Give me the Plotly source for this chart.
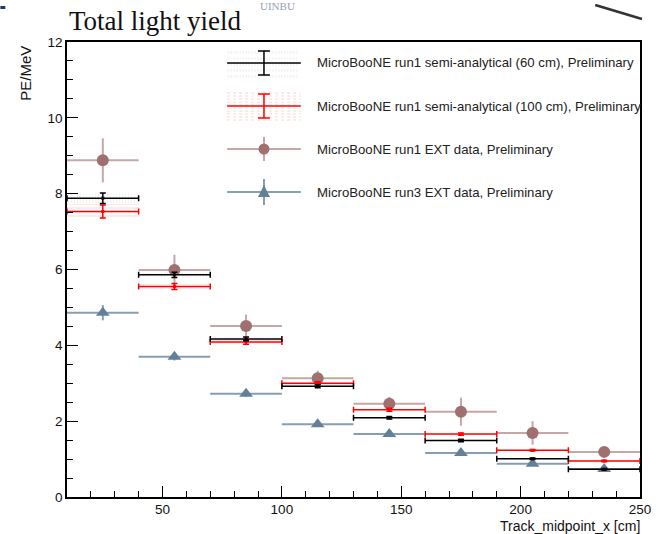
import plotly.graph_objects as go

# ---------------- data ----------------
bin_centers = [25, 55, 85, 115, 145, 175, 205, 235]
bin_half_width = [15, 15, 15, 15, 15, 15, 15, 15]

sa60_vals = [7.88, 5.86, 4.17, 2.92, 2.09, 1.49, 1.01, 0.73]
sa60_err = [0.14, 0.07, 0.05, 0.04, 0.03, 0.03, 0.02, 0.02]
sa60_sys = [0.12, 0.05, 0.04, 0.03, 0.02, 0.02, 0.02, 0.01]

sa100_vals = [7.53, 5.55, 4.09, 3.00, 2.30, 1.66, 1.23, 0.95]
sa100_err = [0.17, 0.08, 0.06, 0.04, 0.04, 0.03, 0.02, 0.02]
sa100_sys = [0.20, 0.06, 0.05, 0.04, 0.03, 0.03, 0.02, 0.02]

run1_vals = [8.88, 5.99, 4.51, 3.13, 2.46, 2.25, 1.69, 1.19]
run1_err = [0.58, 0.40, 0.30, 0.20, 0.18, 0.37, 0.31, 0.10]

run3_vals = [4.86, 3.70, 2.72, 1.92, 1.66, 1.16, 0.88, 0.74]
run3_err = [0.20, 0.10, 0.08, 0.07, 0.07, 0.05, 0.05, 0.05]

legend_labels = [
    "MicroBooNE run1 semi-analytical (60 cm), Preliminary",
    "MicroBooNE run1 semi-analytical (100 cm), Preliminary",
    "MicroBooNE run1 EXT data, Preliminary",
    "MicroBooNE run3 EXT data, Preliminary",
]

# ---------------- layout constants ----------------
W, H = 663, 534
L, R, T, B = 67, 20, 42, 37
PW, PH = W - L - R, H - T - B


def px2x(px):
    return (px - L) / PW


def px2y(py):
    return (H - B - py) / PH


BROWN = "rgb(160,112,112)"
BROWN_L = "rgb(198,166,166)"
BLUE = "rgb(100,128,152)"
BLUE_L = "rgb(135,158,178)"
RED = "rgb(255,0,0)"

fig = go.Figure()

# systematic bands (hatched)
fig.add_trace(go.Bar(
    x=bin_centers, y=[2 * s for s in sa60_sys],
    base=[v - s for v, s in zip(sa60_vals, sa60_sys)],
    width=[2 * w for w in bin_half_width],
    marker=dict(color="rgba(0,0,0,0)", line=dict(width=0),
                pattern=dict(shape="|", fgcolor="rgba(150,150,150,0.3)",
                             bgcolor="rgba(0,0,0,0)", size=3, solidity=0.3)),
    showlegend=False, hoverinfo="skip",
))
fig.add_trace(go.Bar(
    x=bin_centers, y=[2 * s for s in sa100_sys],
    base=[v - s for v, s in zip(sa100_vals, sa100_sys)],
    width=[2 * w for w in bin_half_width],
    marker=dict(color="rgba(0,0,0,0)", line=dict(width=0),
                pattern=dict(shape="-", fgcolor="rgba(255,90,90,0.45)",
                             bgcolor="rgba(0,0,0,0)", size=4, solidity=0.3)),
    showlegend=False, hoverinfo="skip",
))

# EXT data
fig.add_trace(go.Scatter(
    x=bin_centers, y=run1_vals, mode="markers",
    marker=dict(symbol="circle", size=12, color=BROWN),
    error_x=dict(type="data", array=bin_half_width, width=0, thickness=2, color=BROWN_L),
    error_y=dict(type="data", array=run1_err, width=0, thickness=2, color=BROWN_L),
    showlegend=False,
))
fig.add_trace(go.Scatter(
    x=bin_centers, y=run3_vals, mode="markers",
    marker=dict(symbol="triangle-up", size=12, color=BLUE),
    error_x=dict(type="data", array=bin_half_width, width=0, thickness=2, color=BLUE_L),
    error_y=dict(type="data", array=run3_err, width=0, thickness=2, color=BLUE_L),
    showlegend=False,
))

# semi-analytical
fig.add_trace(go.Scatter(
    x=bin_centers, y=sa100_vals, mode="markers",
    marker=dict(symbol="square", size=3, color=RED),
    error_x=dict(type="data", array=bin_half_width, width=3, thickness=1.5, color=RED),
    error_y=dict(type="data", array=sa100_err, width=3, thickness=1.5, color=RED),
    showlegend=False,
))
fig.add_trace(go.Scatter(
    x=bin_centers, y=sa60_vals, mode="markers",
    marker=dict(symbol="square", size=3, color="black"),
    error_x=dict(type="data", array=bin_half_width, width=3, thickness=1.5, color="black"),
    error_y=dict(type="data", array=sa60_err, width=3, thickness=1.5, color="black"),
    showlegend=False,
))

shapes = []
annotations = []

# ---------------- manual ROOT-style legend ----------------
rows = [63, 106, 149, 192]
sx0, sx1, sxc = 228, 302, 265
# hatched band boxes
for xx in range(229, 301, 3):
    shapes.append(dict(type="line", xref="paper", yref="paper",
                       x0=px2x(xx), x1=px2x(xx), y0=px2y(78), y1=px2y(48),
                       line=dict(color="rgba(0,0,0,0.07)", width=1, dash="dot"), layer="below"))
for yy in range(93, 121, 3):
    shapes.append(dict(type="line", xref="paper", yref="paper",
                       x0=px2x(sx0), x1=px2x(sx1), y0=px2y(yy), y1=px2y(yy),
                       line=dict(color="rgba(255,0,0,0.18)", width=1, dash="dot"), layer="below"))
legend_styles = [
    ("black", "black", 1.5, 12, 6),
    (RED, RED, 1.5, 12, 6),
    (BROWN_L, BROWN, 2, 12, 0),
    (BLUE_L, BLUE, 2, 13, 0),
]
for i, (py, (lc, mc, lw, half_v, cap)) in enumerate(zip(rows, legend_styles)):
    shapes.append(dict(type="line", xref="paper", yref="paper",
                       x0=px2x(sx0), x1=px2x(sx1), y0=px2y(py), y1=px2y(py),
                       line=dict(color=lc, width=lw)))
    shapes.append(dict(type="line", xref="paper", yref="paper",
                       x0=px2x(sxc), x1=px2x(sxc), y0=px2y(py - half_v), y1=px2y(py + half_v),
                       line=dict(color=lc, width=lw)))
    if cap:
        for yy in (py - half_v, py + half_v):
            shapes.append(dict(type="line", xref="paper", yref="paper",
                               x0=px2x(sxc - cap), x1=px2x(sxc + cap), y0=px2y(yy), y1=px2y(yy),
                               line=dict(color=lc, width=lw)))
    if i == 2:
        shapes.append(dict(type="circle", xref="paper", yref="paper",
                           x0=px2x(sxc - 5.5), x1=px2x(sxc + 5.5),
                           y0=px2y(py + 5.5), y1=px2y(py - 5.5),
                           fillcolor=mc, line=dict(width=0)))
    if i == 3:
        path = "M {} {} L {} {} L {} {} Z".format(
            px2x(sxc - 6), px2y(py + 5), px2x(sxc + 6), px2y(py + 5), px2x(sxc), px2y(py - 7))
        shapes.append(dict(type="path", xref="paper", yref="paper", path=path,
                           fillcolor=mc, line=dict(width=0)))
    annotations.append(dict(text=legend_labels[i], xref="paper", yref="paper",
                            x=px2x(316), y=px2y(py), xanchor="left", yanchor="middle",
                            showarrow=False,
                            font=dict(family="Liberation Sans, Arial", size=13.2, color="#222")))

# title and axis titles
annotations.append(dict(text="Total light yield", xref="paper", yref="paper",
                        x=px2x(67), y=px2y(21), xanchor="left", yanchor="middle",
                        showarrow=False,
                        font=dict(family="Liberation Serif, Times New Roman", size=27, color="#111")))
annotations.append(dict(text="PE/MeV", xref="paper", yref="paper",
                        x=px2x(25), y=px2y(44), xanchor="center", yanchor="top",
                        textangle=-90, showarrow=False,
                        font=dict(family="Liberation Sans, Arial", size=15, color="#111")))
annotations.append(dict(text="Track_midpoint_x [cm]", xref="paper", yref="paper",
                        x=px2x(644), y=px2y(535), xanchor="right", yanchor="bottom",
                        showarrow=False, borderpad=0,
                        font=dict(family="Liberation Sans, Arial", size=14, color="#111")))
# cropped-screenshot artifacts
annotations.append(dict(text="UINBU", xref="paper", yref="paper",
                        x=px2x(279), y=px2y(6), xanchor="center", yanchor="middle",
                        showarrow=False,
                        font=dict(family="Liberation Serif", size=11, color="#98a1b4")))
shapes.append(dict(type="line", xref="paper", yref="paper",
                   x0=px2x(598), y0=px2y(5), x1=px2x(645), y1=px2y(19),
                   line=dict(color="#333", width=2.5)))
shapes.append(dict(type="rect", xref="paper", yref="paper",
                   x0=px2x(0), x1=px2x(5), y0=px2y(9), y1=px2y(6),
                   fillcolor="#1f3a6e", line=dict(width=0)))

axis_font = dict(family="Liberation Sans, Arial", size=13.5, color="#111")
fig.update_layout(
    width=W, height=H,
    margin=dict(l=L, r=R, t=T, b=B, pad=0),
    paper_bgcolor="white", plot_bgcolor="white",
    barmode="overlay", bargap=0,
    showlegend=False,
    shapes=shapes, annotations=annotations,
    xaxis=dict(range=[10, 250], showgrid=False, zeroline=False,
               showline=True, linecolor="black", linewidth=1.5, mirror=True,
               ticks="inside", ticklen=11, tickwidth=1, tickcolor="black",
               tick0=0, dtick=50, tickfont=axis_font, ticklabelstandoff=-1,
               minor=dict(ticks="inside", ticklen=6, dtick=10, tick0=0,
                          tickcolor="black", tickwidth=1, showgrid=False)),
    yaxis=dict(range=[0, 12], showgrid=False, zeroline=False,
               showline=True, linecolor="black", linewidth=1.5, mirror=True,
               ticks="inside", ticklen=11, tickwidth=1, tickcolor="black",
               tick0=0, dtick=2, tickfont=axis_font,
               minor=dict(ticks="inside", ticklen=6, dtick=0.5, tick0=0,
                          tickcolor="black", tickwidth=1, showgrid=False)),
)

fig.write_html("out.html")
